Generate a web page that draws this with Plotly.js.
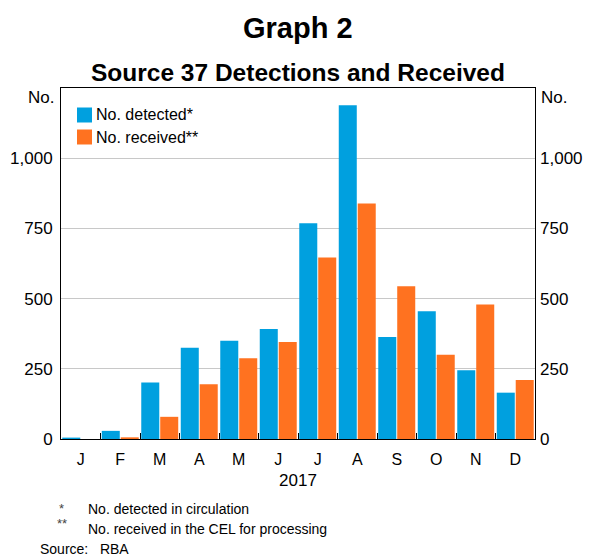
<!DOCTYPE html>
<html><head><meta charset="utf-8">
<script src="https://cdn.plot.ly/plotly-3.0.1.min.js"></script>
<style>html,body{margin:0;padding:0;background:#fff;}#chart{width:593px;height:557px;}</style>
</head><body><div id="chart"></div>
<script>
const months = ["Jan","Feb","Mar","Apr","May","Jun","Jul","Aug","Sep","Oct","Nov","Dec"];
const monthLabels = ["J","F","M","A","M","J","J","A","S","O","N","D"];
const detected = [5, 29, 201, 325, 350, 392, 768, 1189, 363, 455, 245, 165];
const received = [0, 6, 79, 195, 288, 345, 646, 839, 544, 300, 479, 210];
const yTicks = [0, 250, 500, 750, 1000];
const yTickLabels = ["0", "250", "500", "750", "1,000"];
const seriesNames = ["No. detected*", "No. received**"];

const FONT = "Liberation Sans, Arial, sans-serif";
const blue = "#00A0DF";
const orange = "#FF7220";
const colors = [blue, orange];

// plot-area pixel frame
const L = 61, R = 535, T = 88, B = 439;
const px = x => (x - L) / (R - L);
const py = y => (B - y) / (B - T);

const traces = [
  {type:"bar", name:seriesNames[0], x:months, y:detected, marker:{color:blue}, xaxis:"x", yaxis:"y"},
  {type:"bar", name:seriesNames[1], x:months, y:received, marker:{color:orange}, xaxis:"x", yaxis:"y"},
  {type:"scatter", x:months, y:detected, yaxis:"y2", xaxis:"x", mode:"none", showlegend:false, hoverinfo:"skip"}
];

const shapes = [];
const annotations = [
  {text:"<b>Graph 2</b>", xref:"paper", yref:"paper", x:0.5, xanchor:"center", y:py(28), yanchor:"middle", showarrow:false, font:{size:29}},
  {text:"<b>Source 37 Detections and Received</b>", xref:"paper", yref:"paper", x:0.5, xanchor:"center", y:py(73), yanchor:"middle", showarrow:false, font:{size:24.5}},
  {text:"No.", xref:"paper", yref:"paper", x:px(56), xanchor:"right", y:py(97), yanchor:"middle", showarrow:false, font:{size:17}},
  {text:"No.", xref:"paper", yref:"paper", x:px(539), xanchor:"left", y:py(97), yanchor:"middle", showarrow:false, font:{size:17}},
  {text:"*", xref:"paper", yref:"paper", x:px(57), xanchor:"left", y:py(508), yanchor:"middle", showarrow:false, font:{size:13, color:"#444"}},
  {text:"No. detected in circulation", xref:"paper", yref:"paper", x:px(86), xanchor:"left", y:py(509), yanchor:"middle", showarrow:false, font:{size:14}},
  {text:"**", xref:"paper", yref:"paper", x:px(55), xanchor:"left", y:py(523), yanchor:"middle", showarrow:false, font:{size:13, color:"#444"}},
  {text:"No. received in the CEL for processing", xref:"paper", yref:"paper", x:px(86), xanchor:"left", y:py(529), yanchor:"middle", showarrow:false, font:{size:14}},
  {text:"Source:   RBA", xref:"paper", yref:"paper", x:px(38), xanchor:"left", y:py(549), yanchor:"middle", showarrow:false, font:{size:14}}
];
// legend (swatches + labels)
seriesNames.forEach((name, i) => {
  const cy = 115 + i * 22;
  shapes.push({type:"rect", xref:"paper", yref:"paper", x0:px(77), x1:px(92), y0:py(cy-7.5), y1:py(cy+7.5), fillcolor:colors[i], line:{width:0}});
  annotations.push({text:name, xref:"paper", yref:"paper", x:px(94), xanchor:"left", y:py(cy), yanchor:"middle", showarrow:false, font:{size:16}});
});

const layout = {
  width:593, height:557,
  margin:{l:L, r:593-R, t:T, b:557-B},
  paper_bgcolor:"#fff", plot_bgcolor:"#fff",
  font:{family:FONT, color:"#000", size:17},
  barmode:"group", bargap:0.04, bargroupgap:0.05,
  showlegend:false,
  xaxis:{
    type:"category", categoryorder:"array", categoryarray:months,
    tickmode:"array", tickvals:months, ticktext:monthLabels,
    tickson:"boundaries", ticks:"inside", ticklen:6, tickcolor:"#000", tickwidth:1,
    showline:true, linecolor:"#000", linewidth:1, mirror:true,
    showgrid:false, tickfont:{size:16}, ticklabelstandoff:6,
    title:{text:"2017", font:{size:17}, standoff:6},
    range:[-0.5, 11.5], fixedrange:true
  },
  yaxis:{
    range:[0,1250], tickmode:"array", tickvals:yTicks, ticktext:yTickLabels,
    showgrid:true, gridcolor:"#c8c8c8", gridwidth:1,
    showline:true, linecolor:"#000", linewidth:1, mirror:true,
    ticks:"", tickfont:{size:17}, zeroline:false, ticklabelstandoff:4
  },
  yaxis2:{
    range:[0,1250], overlaying:"y", side:"right", tickmode:"array", tickvals:yTicks, ticktext:yTickLabels,
    showgrid:false, ticks:"", tickfont:{size:17}, zeroline:false, showline:false, ticklabelstandoff:4
  },
  shapes:shapes,
  annotations:annotations
};

Plotly.newPlot("chart", traces, layout, {displayModeBar:false, staticPlot:true});
</script>
</body></html>
